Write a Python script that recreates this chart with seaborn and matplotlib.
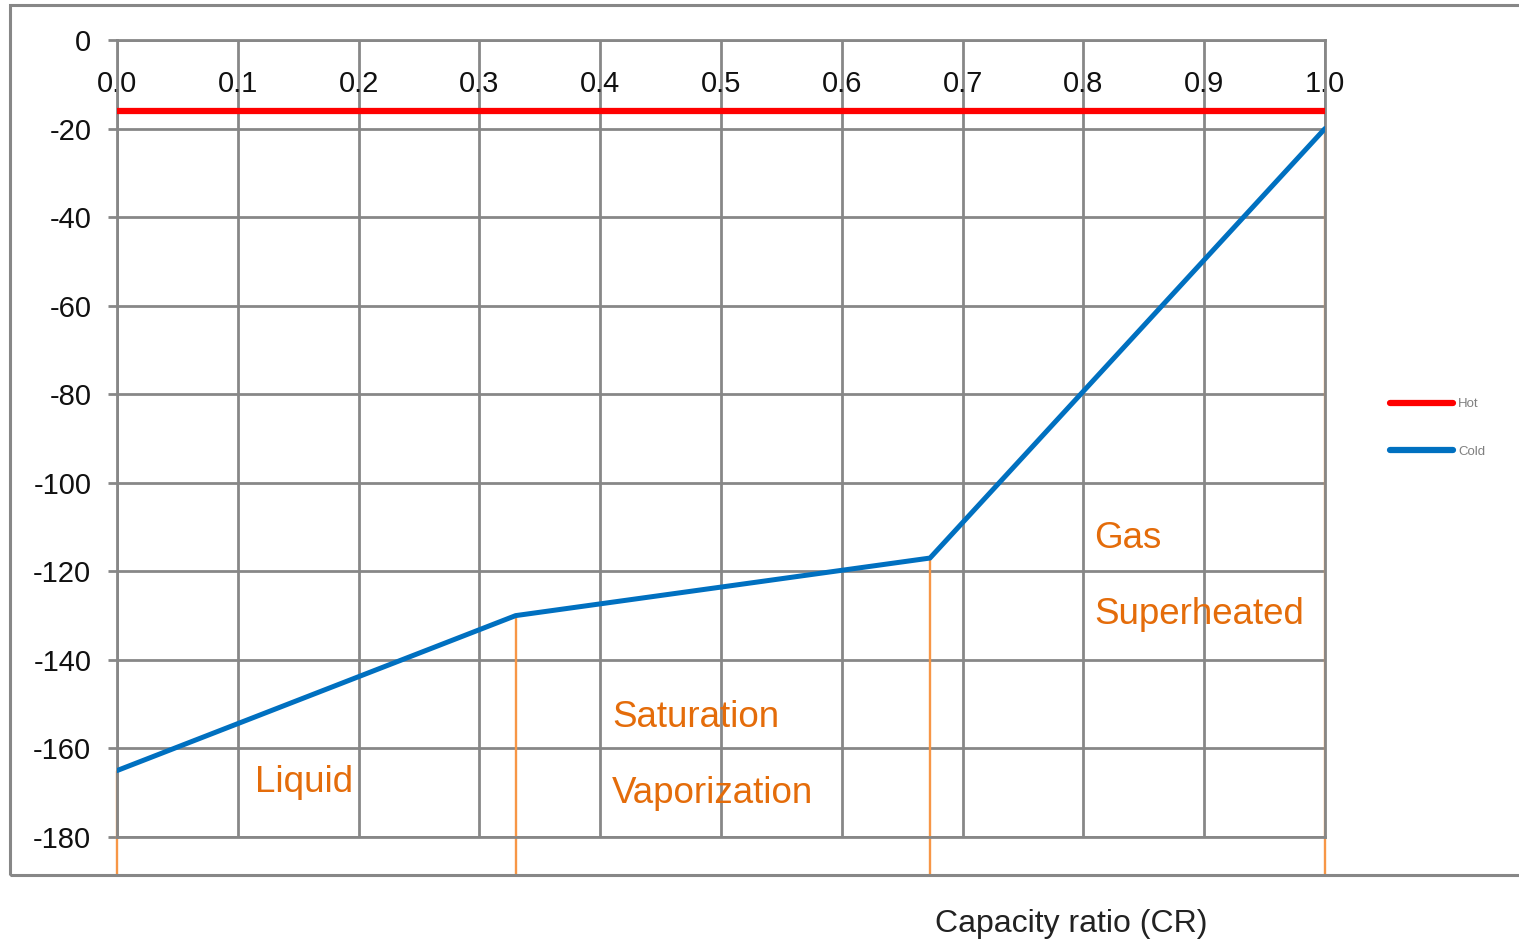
import matplotlib
matplotlib.use("Agg")
import matplotlib.pyplot as plt
from matplotlib.patches import Rectangle
from matplotlib.colors import to_hex
import seaborn as sns
import pandas as pd

# ---- data ----
cr_hot = [0.0, 1.0]
temp_hot = [-16, -16]
cr_cold = [0.0, 0.33, 0.673, 1.0]
temp_cold = [-165, -130, -117, -20]
x_ticks = [0.0, 0.1, 0.2, 0.3, 0.4, 0.5, 0.6, 0.7, 0.8, 0.9, 1.0]
x_tick_labels = ["0.0", "0.1", "0.2", "0.3", "0.4", "0.5", "0.6", "0.7", "0.8", "0.9", "1.0"]
y_ticks = [0, -20, -40, -60, -80, -100, -120, -140, -160, -180]
y_tick_labels = ["0", "-20", "-40", "-60", "-80", "-100", "-120", "-140", "-160", "-180"]
region_labels = ["Liquid", "Saturation\n\nVaporization", "Gas\n\nSuperheated"]
x_label = "Capacity ratio (CR)"

df = pd.concat([
    pd.DataFrame({"CR": cr_hot, "T": temp_hot, "Stream": "Hot"}),
    pd.DataFrame({"CR": cr_cold, "T": temp_cold, "Stream": "Cold"}),
])

sns.set_style("white")
plt.rcParams["font.family"] = ["Liberation Sans", "DejaVu Sans"]

W, H = 1519, 947
fig = plt.figure(figsize=(W / 100, H / 100), dpi=100)
ax = fig.add_axes([117 / W, 1 - 837 / H, (1325 - 117) / W, (837 - 40) / H])

grid_c = "#878787"
hot_c, cold_c = "#FF0000", "#0070C0"
ax.set_xlim(0, 1)
ax.set_ylim(-180, 0)
ax.set_axisbelow(True)
ax.grid(True, color=grid_c, lw=2.0)
for s in ax.spines.values():
    s.set_color(grid_c)
    s.set_linewidth(2.0)

# orange region boundaries
ylow = -180 - 0.048 * 180
for xv, yv in zip(cr_cold, temp_cold):
    ax.plot([xv, xv], [yv, ylow], color="#F79646", lw=1.7, clip_on=False, zorder=1.5)

sns.lineplot(data=df, x="CR", y="T", hue="Stream", palette={"Hot": hot_c, "Cold": cold_c},
             ax=ax, legend=True, sort=False, zorder=3)
for ln in ax.get_lines():
    c = to_hex(ln.get_color()).lower()
    if c == hot_c.lower():
        ln.set_linewidth(4.5)
    elif c == cold_c.lower():
        ln.set_linewidth(3.6)

ax.set_xticks(x_ticks)
ax.set_xticklabels(x_tick_labels)
ax.set_yticks(y_ticks)
ax.set_yticklabels(y_tick_labels)
ax.xaxis.tick_top()
ax.tick_params(axis="x", length=0, pad=-42, labelsize=21, labelcolor="#111111")
ax.tick_params(axis="y", left=True, length=6.5, width=2, color=grid_c, pad=12,
               labelsize=21, labelcolor="#111111")

ax.set_xlabel(x_label, fontsize=23, color="#222222", va="center")
ax.xaxis.set_label_coords((1071 - 117) / 1208, -(924 - 837) / 797)
ax.set_ylabel("")

orange = "#E46C0A"
ax.text(0.114, -167.6, region_labels[0], fontsize=26.5, color=orange, va="center", ha="left")
ax.text(0.41, -161.6, region_labels[1], fontsize=26.5, color=orange, va="center", ha="left", linespacing=1.11)
ax.text(0.809, -121.2, region_labels[2], fontsize=26.5, color=orange, va="center", ha="left", linespacing=1.11)

leg = ax.legend(loc="center left", bbox_to_anchor=(1383 / W, 1 - 428 / H), bbox_transform=fig.transFigure,
                frameon=False, fontsize=9.5, handlelength=4.8, labelspacing=2.7, handletextpad=0.4,
                borderpad=0, title=None)
for t in leg.get_texts():
    t.set_color("#7f7f7f")
for lh in leg.get_lines():
    lh.set_linewidth(4.5)

fig.add_artist(Rectangle((10 / W, 1 - 875 / H), 1.2, (875 - 5) / H, transform=fig.transFigure,
                         fill=False, edgecolor=grid_c, lw=2.2))

fig.savefig("out.png", dpi=100, facecolor="white")
